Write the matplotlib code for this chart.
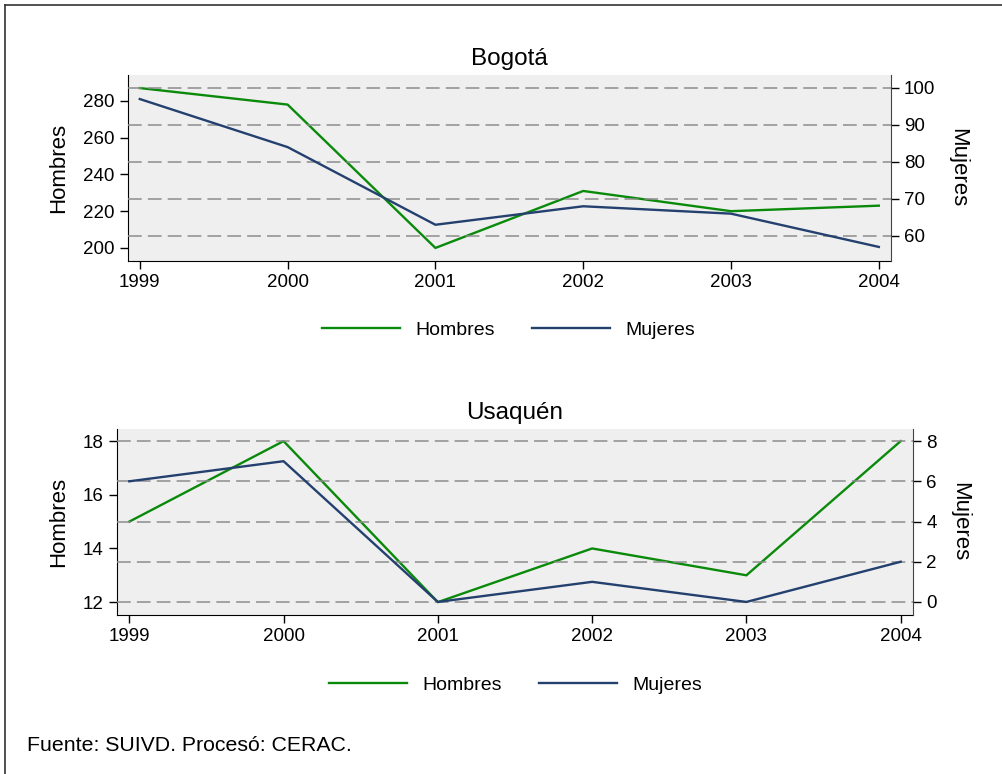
import numpy as np
import matplotlib.pyplot as plt
from matplotlib.lines import Line2D

plt.rcParams['font.family'] = ['Liberation Sans', 'DejaVu Sans']

years = [1999, 2000, 2001, 2002, 2003, 2004]

# Bogotá
bog_hombres = [287, 278, 200, 231, 220, 223]
bog_mujeres = [97, 84, 63, 68, 66, 57]

# Usaquén
usa_hombres = [15, 18, 12, 14, 13, 18]
usa_mujeres = [6, 7, 0, 1, 0, 2]

c_h = '#0a8a0a'
c_m = '#23406f'
bg = '#efefef'

fig = plt.figure(figsize=(10.03, 7.74), dpi=100)

def panel(rect, title, h, m, lticks, llim, rticks, rlim, xlim, leg_x, leg_y):
    ax = fig.add_axes(rect)
    ax.set_facecolor(bg)
    ax.plot(years, h, color=c_h, lw=1.7, zorder=3)
    ax.set_ylim(llim)
    ax.set_yticks(lticks)
    ax.set_xlim(xlim)
    ax.set_xticks(years)
    ax.set_ylabel('Hombres', fontsize=16, labelpad=10)
    ax.tick_params(labelsize=13.5, direction='out', length=6, width=1)
    ax.spines['top'].set_visible(False)
    ax.spines['right'].set_visible(False)
    ax2 = ax.twinx()
    ax2.plot(years, m, color=c_m, lw=1.7, zorder=3)
    ax2.set_ylim(rlim)
    ax2.set_yticks(rticks)
    for t in rticks:
        ax2.axhline(t, color='#8c8c8c', lw=1.1, dashes=(9, 4), zorder=1)
    ax2.set_ylabel('Mujeres', fontsize=16, rotation=-90, labelpad=24)
    ax2.tick_params(labelsize=13.5, direction='out', length=6, width=1)
    ax2.spines['top'].set_visible(False)
    ax2.spines['left'].set_visible(False)
    ax2.spines['bottom'].set_visible(False)
    ax2.spines['right'].set_color('#444444')
    ax.set_title(title, fontsize=17.5, pad=7)
    handles = [Line2D([], [], color=c_h, lw=1.7), Line2D([], [], color=c_m, lw=1.7)]
    fig.legend(handles, ['Hombres', 'Mujeres'], loc='center', ncol=2,
               bbox_to_anchor=(leg_x, leg_y), frameon=False, fontsize=14,
               handlelength=4.0, columnspacing=1.9, handletextpad=0.8)
    return ax

panel([0.1276, 0.6628, 0.7604, 0.2403], 'Bogotá', bog_hombres, bog_mujeres,
      [200, 220, 240, 260, 280], (192.9, 294.1),
      [60, 70, 80, 90, 100], (53.2, 103.5), (1998.92, 2004.08), 0.507, 0.5736)

panel([0.1166, 0.2054, 0.7937, 0.2403], 'Usaquén', usa_hombres, usa_mujeres,
      [12, 14, 16, 18], (11.52, 18.45),
      [0, 2, 4, 6, 8], (-0.65, 8.6), (1998.92, 2004.08), 0.514, 0.115)

fig.text(0.027, 0.037, 'Fuente: SUIVD. Procesó: CERAC.', fontsize=15.3, va='center')
# outer frame (left and top edges visible in the reference)
fig.add_artist(Line2D([0.005, 0.005], [0.0, 0.994], transform=fig.transFigure,
                      color='#333333', lw=1.2))
fig.add_artist(Line2D([0.005, 1.0], [0.994, 0.994], transform=fig.transFigure,
                      color='#333333', lw=1.2))

fig.savefig('out.png', dpi=100)
